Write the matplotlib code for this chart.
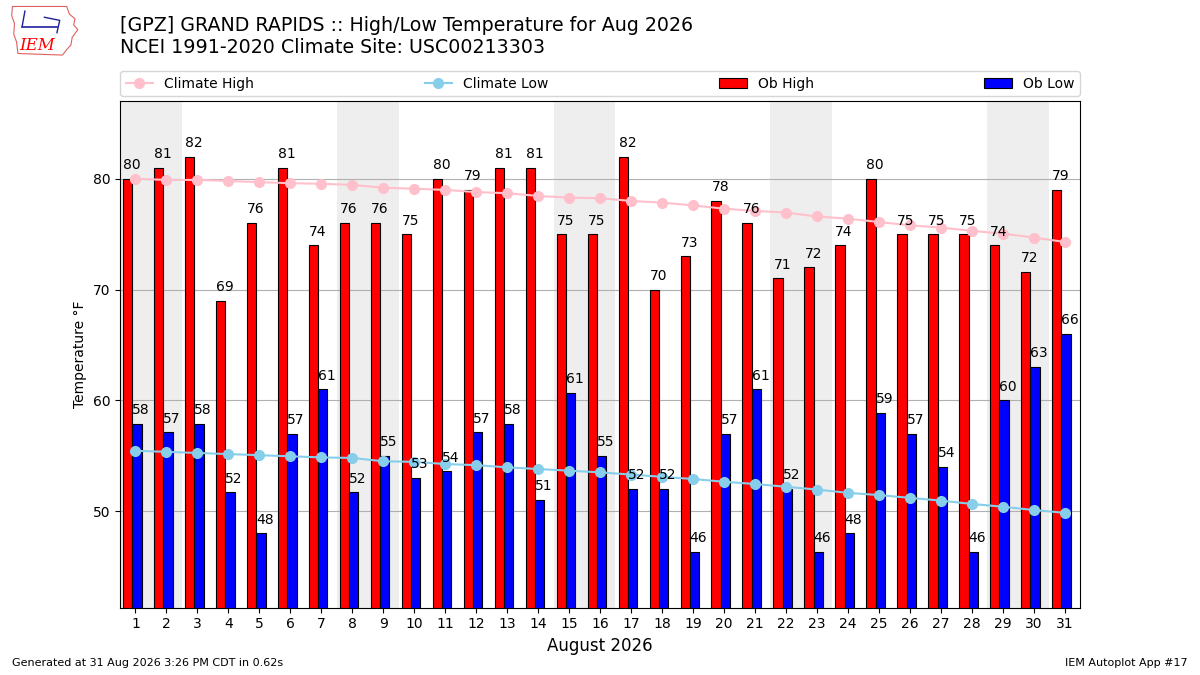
import matplotlib
matplotlib.use("Agg")
import matplotlib.pyplot as plt
from matplotlib.patches import Patch, Polygon
from matplotlib.lines import Line2D

days = list(range(1, 32))
ob_high = [80, 81, 82, 69, 76, 81, 74, 76, 76, 75, 80, 79, 81, 81, 75, 75,
           82, 70, 73, 78, 76, 71, 72, 74, 80, 75, 75, 75, 74, 71.6, 79]
ob_low = [57.9, 57.1, 57.9, 51.7, 48, 57, 61, 51.7, 55, 53, 53.6, 57.1, 57.9, 51,
          60.7, 55, 52, 52, 46.3, 57, 61, 52, 46.3, 48, 58.9, 57, 54, 46.3,
          60, 63, 66]
clim_high = [80.0, 79.9, 79.9, 79.8, 79.7, 79.6, 79.55, 79.45, 79.2, 79.1, 79.0,
             78.8, 78.7, 78.45, 78.3, 78.25, 78.0, 77.85, 77.6, 77.3, 77.1,
             76.95, 76.6, 76.4, 76.1, 75.8, 75.6, 75.3, 75.05, 74.7, 74.3]
clim_low = [55.45, 55.35, 55.25, 55.15, 55.05, 54.95, 54.85, 54.8, 54.5, 54.45,
            54.25, 54.15, 53.95, 53.8, 53.65, 53.5, 53.3, 53.1, 52.9, 52.65,
            52.45, 52.2, 51.95, 51.65, 51.45, 51.2, 50.95, 50.65, 50.4, 50.1,
            49.85]
weekend_start = [1, 8, 15, 22, 29]

title = ("[GPZ] GRAND RAPIDS :: High/Low Temperature for Aug 2026\n"
         "NCEI 1991-2020 Climate Site: USC00213303")

fig = plt.figure(figsize=(12, 6.75), dpi=100)
ax = fig.add_axes([0.1, 0.1, 0.8, 0.75])

for d in weekend_start:
    ax.axvspan(d - 0.5, d + 1.5, color="#EEEEEE", zorder=0, lw=0)

xh = [d - 0.4 for d in days]
xl = [d - 0.1 for d in days]
ax.bar(xh, ob_high, width=0.3, align="edge", color="red", edgecolor="black",
       linewidth=0.8, zorder=2)
ax.bar(xl, ob_low, width=0.3, align="edge", color="blue", edgecolor="black",
       linewidth=0.8, zorder=2)
ax.plot(days, clim_high, color="pink", marker="o", markersize=7, lw=1.5, zorder=3)
ax.plot(days, clim_low, color="skyblue", marker="o", markersize=7, lw=1.5, zorder=3)

for x, v in zip(xh, ob_high):
    ax.text(x, v + 0.6, f"{v:.0f}", ha="left", va="bottom", fontsize=10, zorder=4)
for x, v in zip(xl, ob_low):
    ax.text(x, v + 0.6, f"{v:.0f}", ha="left", va="bottom", fontsize=10, zorder=4)

ax.set_xlim(0.5, 31.5)
ax.set_ylim(min(ob_low) - 5, max(ob_high) + 5)
ax.set_xticks(days)
ax.set_yticks([50, 60, 70, 80])
ax.yaxis.grid(True, color="#b0b0b0", lw=0.8)
ax.set_axisbelow(True)
ax.set_xlabel("August 2026", fontsize=12)
ax.set_ylabel("Temperature \u00b0F", fontsize=10)

handles = [
    Line2D([], [], color="pink", marker="o", markersize=7, lw=1.5),
    Line2D([], [], color="skyblue", marker="o", markersize=7, lw=1.5),
    Patch(facecolor="red", edgecolor="black", linewidth=0.8),
    Patch(facecolor="blue", edgecolor="black", linewidth=0.8),
]
ax.legend(handles, ["Climate High", "Climate Low", "Ob High", "Ob Low"],
          loc="lower left", bbox_to_anchor=(0, 1.01, 1, 0.05), mode="expand",
          ncol=4, fontsize=10, borderaxespad=0)

fig.text(0.1, 0.915, title, fontsize=13.7, ha="left", va="bottom", linespacing=1.2)
fig.text(0.01, 0.01, "Generated at 31 Aug 2026 3:26 PM CDT in 0.62s",
         fontsize=8, ha="left", va="bottom")
fig.text(0.99, 0.01, "IEM Autoplot App #17", fontsize=8, ha="right", va="bottom")

# simple IEM logo
lax = fig.add_axes([0.008, 0.915, 0.058, 0.08])
lax.set_xlim(0, 10)
lax.set_ylim(0, 7)
lax.axis("off")
iowa = [(0.4, 6.6), (8.2, 6.6), (8.6, 5.6), (9.4, 5.0), (9.2, 4.2), (9.8, 3.6),
        (9.0, 2.6), (8.8, 1.6), (8.2, 1.0), (7.6, 0.3), (1.2, 0.5), (1.0, 2.0),
        (0.6, 3.0), (0.7, 4.4), (0.3, 5.4)]
lax.add_patch(Polygon(iowa, closed=True, fill=False, edgecolor="#e06060", lw=0.8))
lax.plot([1.8, 6.8], [4.0, 4.0], color="#2020a0", lw=1.2)
lax.plot([5.0, 7.2, 6.8], [5.2, 4.8, 3.2], color="#2020a0", lw=1.0)
lax.plot([1.8, 2.2], [4.0, 6.0], color="#2020a0", lw=1.0)
lax.text(4.0, 1.6, "IEM", color="red", fontsize=12, fontstyle="italic",
         family="DejaVu Serif", ha="center", va="center")

fig.savefig("out.png", dpi=100)
